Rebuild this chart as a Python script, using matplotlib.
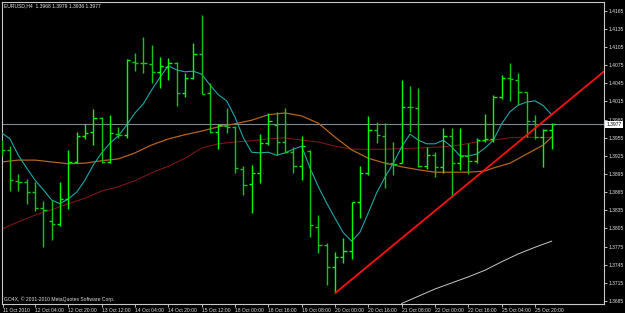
import matplotlib.pyplot as plt
from matplotlib import transforms

# EURUSD H4 bars, index -1 .. 65 (bar -1 sits on the left frame)
bar_idx = list(range(-1, 66))
opens = [1.3938, 1.3935, 1.3884, 1.3882, 1.3865, 1.3839, 1.3817, 1.3812, 1.3854, 1.3915,
         1.3958, 1.3965, 1.3988, 1.3915, 1.3961, 1.3960, 1.4080, 1.4079, 1.4077, 1.4064,
         1.4072, 1.4079, 1.4029, 1.4054, 1.4093, 1.4029, 1.3965, 1.3974, 1.3973, 1.3903,
         1.3879, 1.3897, 1.3946, 1.3976, 1.3948, 1.3931, 1.3908, 1.3933, 1.3807, 1.3778,
         1.3741, 1.3758, 1.3768, 1.3849, 1.3897, 1.3968, 1.3958, 1.3913, 1.3913, 1.4006,
         1.4004, 1.3908, 1.3926, 1.3907, 1.3958, 1.3913, 1.3925, 1.3916, 1.3951, 1.3953,
         1.4022, 1.4054, 1.4050, 1.4031, 1.3983, 1.3956, 1.3968]
highs = [1.3951, 1.3941, 1.3895, 1.3887, 1.3882, 1.3850, 1.3852, 1.3882, 1.3935, 1.3965,
         1.3978, 1.4003, 1.3989, 1.3993, 1.3973, 1.4085, 1.4095, 1.4122, 1.4108, 1.4088,
         1.4087, 1.4081, 1.4062, 1.4112, 1.4158, 1.4046, 1.3978, 1.4004, 1.3975, 1.3908,
         1.3910, 1.3961, 1.3996, 1.3998, 1.4004, 1.3940, 1.3958, 1.3935, 1.3827, 1.3781,
         1.3766, 1.3789, 1.3849, 1.3908, 1.3991, 1.3981, 1.3979, 1.3948, 1.4050, 1.4041,
         1.4037, 1.3940, 1.3931, 1.3971, 1.3971, 1.3971, 1.3946, 1.3955, 1.3994, 1.4026,
         1.4059, 1.4079, 1.4062, 1.4031, 1.3993, 1.3970, 1.3979]
lows = [1.3925, 1.3867, 1.3867, 1.3845, 1.3834, 1.3774, 1.3786, 1.3809, 1.3837, 1.3913,
        1.3953, 1.3943, 1.3913, 1.3913, 1.3955, 1.3955, 1.4065, 1.4062, 1.4046, 1.4037,
        1.4050, 1.4007, 1.4022, 1.4052, 1.4028, 1.3963, 1.3936, 1.3963, 1.3897, 1.3860,
        1.3831, 1.3880, 1.3943, 1.3926, 1.3930, 1.3897, 1.3885, 1.3791, 1.3764, 1.3712,
        1.3698, 1.3748, 1.3755, 1.3822, 1.3894, 1.3946, 1.3872, 1.3894, 1.3913, 1.3965,
        1.3907, 1.3903, 1.3890, 1.3897, 1.3857, 1.3902, 1.3895, 1.3913, 1.3948, 1.3948,
        1.4019, 1.4016, 1.4009, 1.3956, 1.3953, 1.3907, 1.3936]
closes = [1.3935, 1.3885, 1.3882, 1.3865, 1.3839, 1.3836, 1.3812, 1.3854, 1.3915, 1.3958,
          1.3963, 1.3988, 1.3915, 1.3963, 1.3960, 1.4084, 1.4079, 1.4078, 1.4064, 1.4074,
          1.4079, 1.4029, 1.4054, 1.4093, 1.4028, 1.3965, 1.3976, 1.3973, 1.3905, 1.3877,
          1.3897, 1.3946, 1.3983, 1.3948, 1.3931, 1.3908, 1.3941, 1.3811, 1.3778, 1.3741,
          1.3758, 1.3768, 1.3849, 1.3897, 1.3968, 1.3960, 1.3913, 1.3912, 1.4006, 1.4005,
          1.3908, 1.3926, 1.3907, 1.3958, 1.3913, 1.3925, 1.3916, 1.3951, 1.3953, 1.4022,
          1.4054, 1.4052, 1.4031, 1.3983, 1.3956, 1.3968, 1.3977]

# moving averages
ma_fast = [1.3963, 1.3953, 1.3926, 1.3905, 1.3885, 1.3869, 1.3852, 1.3846, 1.3854, 1.3865,
           1.3885, 1.3910, 1.3930, 1.3946, 1.3958, 1.3976, 1.3996, 1.4011, 1.4034, 1.4055,
           1.4074, 1.4067, 1.4064, 1.4065, 1.4060, 1.4042, 1.4026, 1.4016, 1.3989, 1.3955,
           1.3931, 1.3930, 1.3931, 1.3926, 1.3930, 1.3936, 1.3941, 1.3905, 1.3874, 1.3847,
           1.3822, 1.3798, 1.3784, 1.3799, 1.3831, 1.3864, 1.3890, 1.3913, 1.3940, 1.3961,
           1.3951, 1.3945, 1.3945, 1.3951, 1.3940, 1.3925, 1.3925, 1.3928, 1.3938, 1.3951,
           1.3978, 1.3998, 1.4009, 1.4014, 1.4016, 1.4008, 1.3993]
ma_mid_idx = [-1, 1, 3, 5, 7, 9, 11, 13, 15, 17, 19, 21, 23, 25, 27, 29, 31, 33, 35, 37,
              39, 41, 43, 45, 47, 49, 51, 53, 55, 57, 58, 60, 62, 64, 65]
ma_mid = [1.3915, 1.3918, 1.3918, 1.3915, 1.3912, 1.3913, 1.3917, 1.3920, 1.3930, 1.3943,
          1.3953, 1.3960, 1.3966, 1.3973, 1.3978, 1.3984, 1.3993, 1.3996, 1.3991, 1.3979,
          1.3956, 1.3935, 1.3921, 1.3913, 1.3907, 1.3902, 1.3898, 1.3898, 1.3898, 1.3900,
          1.3905, 1.3913, 1.3928, 1.3943, 1.3956]
ma_slow_idx = [-1, 1, 3, 5, 7, 9, 11, 13, 15, 17, 19, 21, 23, 25, 27, 29, 31, 33, 35, 37,
               39, 41, 45, 49, 52, 54, 56, 58, 60, 62, 64, 65]
ma_slow = [1.3804, 1.3816, 1.3827, 1.3836, 1.3846, 1.3855, 1.3867, 1.3874, 1.3884, 1.3897,
           1.3908, 1.3921, 1.3938, 1.3945, 1.3948, 1.3950, 1.3953, 1.3955, 1.3951, 1.3948,
           1.3941, 1.3936, 1.3936, 1.3938, 1.3940, 1.3943, 1.3948, 1.3951, 1.3955, 1.3956,
           1.3955, 1.3956]
ma_long_idx = [47, 49, 51, 53, 55, 57, 59, 61, 63, 65]
ma_long = [1.3681, 1.3693, 1.3705, 1.3715, 1.3725, 1.3736, 1.3750, 1.3763, 1.3774, 1.3784]

# trendline through two lows
trend_idx = [39, 53]
trend_px = [1.3698, 1.3857]

y_ticks = [1.4165, 1.4135, 1.4105, 1.4075, 1.4045, 1.4015, 1.3985, 1.3955, 1.3925,
           1.3895, 1.3865, 1.3835, 1.3805, 1.3775, 1.3745, 1.3715, 1.3685]
x_tick_idx = [-0.85, 3, 7, 11, 15, 19, 23, 27, 31, 35, 39, 43, 47, 51, 55, 59, 63]
x_tick_labels = ["11 Oct 2010", "12 Oct 04:00", "12 Oct 20:00", "13 Oct 12:00",
                 "14 Oct 04:00", "14 Oct 20:00", "15 Oct 12:00", "18 Oct 00:00",
                 "18 Oct 16:00", "19 Oct 08:00", "20 Oct 00:00", "20 Oct 16:00",
                 "21 Oct 08:00", "22 Oct 00:00", "22 Oct 16:00", "25 Oct 04:00",
                 "25 Oct 20:00"]

W, H = 625, 313
FS = 3.6
plt.rcParams['font.family'] = ['Liberation Sans', 'DejaVu Sans']

fig = plt.figure(figsize=(W / 100, H / 100), dpi=100, facecolor='black')
ax = fig.add_axes([2 / W, (H - 303.5) / H, 602 / W, 302 / H])
ax.set_facecolor('black')
XMIN, XMAX = -0.96, 71.28
ax.set_xlim(XMIN, XMAX)
ax.set_ylim(1.3681, 1.41802)

# moving averages
ax.plot(ma_slow_idx, ma_slow, color='#7a1616', lw=0.8, zorder=2)
ax.plot(ma_mid_idx, ma_mid, color='#b4641c', lw=0.9, zorder=2)
ax.plot(ma_long_idx, ma_long, color='#c8c8c8', lw=0.7, zorder=2)
ax.plot(bar_idx, ma_fast, color='#1fa8a8', lw=0.8, zorder=3)

# current price line
ax.axhline(closes[-1], color='#7d8a96', lw=0.8, zorder=1)

# OHLC bars
for k, o, h, l, c in zip(bar_idx, opens, highs, lows, closes):
    col = '#00ff00' if c >= o else '#12c812'
    ax.vlines(k, l, h, color=col, lw=1.0, zorder=4)
    ax.hlines(o, k - 0.38, k, color=col, lw=1.0, zorder=4)
    ax.hlines(c, k, k + 0.38, color=col, lw=1.0, zorder=4)

# trendline ray
slope = (trend_px[1] - trend_px[0]) / (trend_idx[1] - trend_idx[0])
ax.plot([trend_idx[0], XMAX], [trend_px[0], trend_px[0] + slope * (XMAX - trend_idx[0])],
        color='#ff1010', lw=1.3, zorder=5, solid_capstyle='butt')

# axes styling
for s in ax.spines.values():
    s.set_color('#c8c8c8')
    s.set_linewidth(0.8)
ax.yaxis.tick_right()
ax.set_yticks(y_ticks)
ax.set_yticklabels([f"{v:.4f}" for v in y_ticks])
ax.set_xticks(x_tick_idx)
ax.set_xticklabels(x_tick_labels)
ax.tick_params(axis='y', colors='#e0e0e0', labelsize=FS, length=2, width=0.6, pad=1)
ax.tick_params(axis='x', colors='#e0e0e0', labelsize=FS, length=2, width=0.6, pad=1)
for lab in ax.get_xticklabels():
    lab.set_ha('left')

# current price box
tr = transforms.blended_transform_factory(ax.transAxes, ax.transData)
ax.text(1.004, closes[-1], f"{closes[-1]:.4f}", transform=tr, fontsize=FS,
        color='black', va='center', ha='left', zorder=10, clip_on=False,
        bbox=dict(boxstyle='square,pad=0.25', fc='white', ec='white', lw=0))

fig.text(3.5 / W, 1 - 5.5 / H, "EURUSD,H4  1.3968 1.3979 1.3936 1.3977",
         fontsize=FS, color='#e8e8e8', va='center', ha='left')
fig.text(3.5 / W, 1 - 299.5 / H, "GO4X, \u00a9 2001-2010 MetaQuotes Software Corp.",
         fontsize=FS, color='#e0e0e0', va='center', ha='left')

fig.savefig('out.png', dpi=100, facecolor='black')
